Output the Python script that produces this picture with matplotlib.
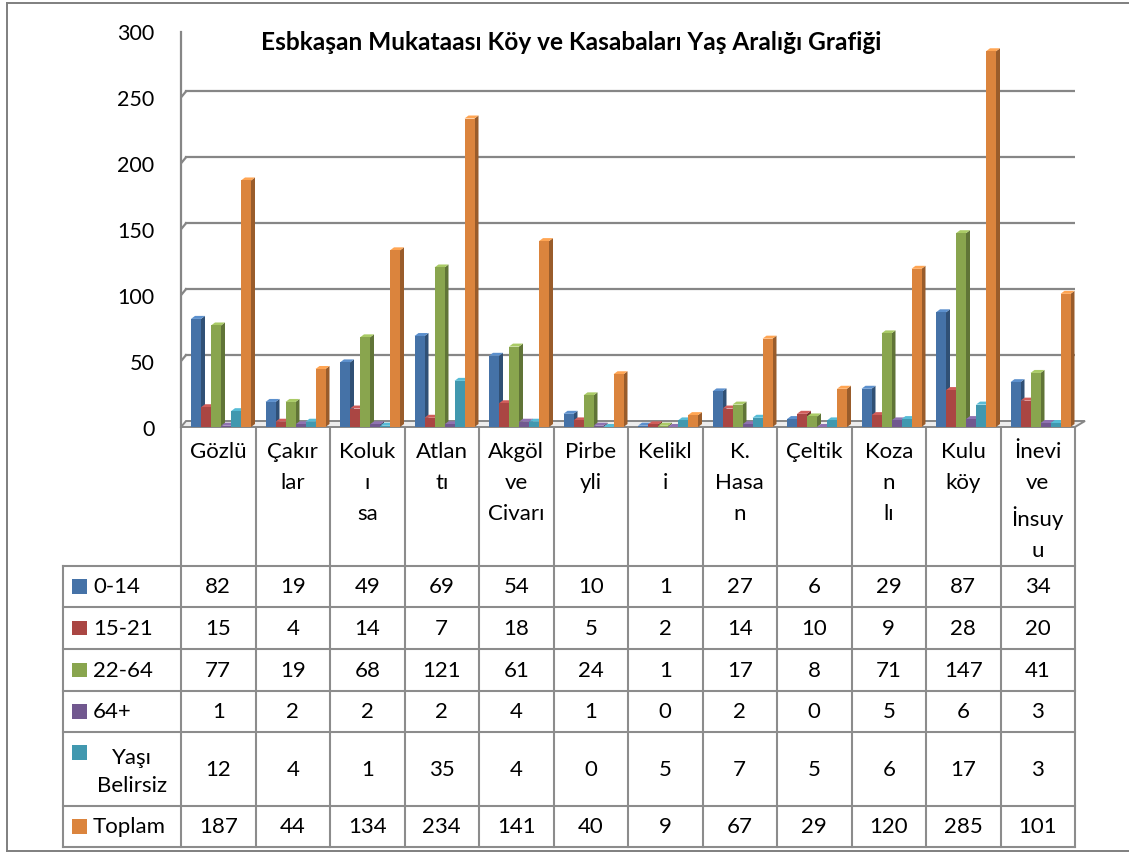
import matplotlib
matplotlib.use('Agg')
from matplotlib import pyplot as plt
from matplotlib.patches import Polygon, Rectangle
import matplotlib.colors as mcolors
import numpy as np

plt.rcParams['font.family'] = ['Lato', 'DejaVu Sans']

# ----- data -----
villages = ['Gözlü', 'Çakır\nlar', 'Koluk\nı\nsa', 'Atlan\ntı', 'Akgöl\nve\nCivarı',
            'Pirbe\nyli', 'Kelikl\ni', 'K.\nHasa\nn', 'Çeltik', 'Koza\nn\nlı',
            'Kulu\nköy', 'İnevi\nve\nİnsuy\nu']
series_names = ['0-14', '15-21', '22-64', '64+', 'Yaşı\nBelirsiz', 'Toplam']
age_0_14 = [82, 19, 49, 69, 54, 10, 1, 27, 6, 29, 87, 34]
age_15_21 = [15, 4, 14, 7, 18, 5, 2, 14, 10, 9, 28, 20]
age_22_64 = [77, 19, 68, 121, 61, 24, 1, 17, 8, 71, 147, 41]
age_64_plus = [1, 2, 2, 2, 4, 1, 0, 2, 0, 5, 6, 3]
unknown_age = [12, 4, 1, 35, 4, 0, 5, 7, 5, 6, 17, 3]
total = [187, 44, 134, 234, 141, 40, 9, 67, 29, 120, 285, 101]
all_series = [age_0_14, age_15_21, age_22_64, age_64_plus, unknown_age, total]
colors = ['#4572A7', '#AA4643', '#89A54E', '#71588F', '#4198AF', '#DB843D']
title = 'Esbkaşan Mukataası Köy ve Kasabaları Yaş Aralığı Grafiği'

W, H = 1129, 854
fig = plt.figure(figsize=(W / 100, H / 100), dpi=100)

# background axes in pixel coords (table, frame)
bg = fig.add_axes([0, 0, 1, 1])
bg.set_xlim(0, W)
bg.set_ylim(H, 0)
bg.axis('off')

# chart area (front plane) in pixels
x0, x1 = 181, 1075
y_zero, y_top = 428, 32.5
ax = fig.add_axes([x0 / W, (H - y_zero) / H, (x1 - x0) / W, (y_zero - y_top) / H])
ax.set_xlim(0, 12)
ax.set_ylim(0, 300)
for s in ax.spines.values():
    s.set_visible(False)
ax.set_xticks([])
ax.set_yticks(range(0, 301, 50))
ax.tick_params(axis='y', length=0, pad=19, labelsize=15.5)
ax.patch.set_alpha(0)

px_x = 12 / (x1 - x0)          # data units per pixel in x
px_y = 300 / (y_zero - y_top)  # data units per pixel in y
grid_c = '#868686'

# back wall gridlines
bdx, bdy = 5 * px_x, 6 * px_y
x_end = (1085 - x0) * px_x
for v in range(50, 301, 50):
    ax.plot([bdx, x_end], [v + bdy, v + bdy], color=grid_c, lw=1.6, zorder=1)
    ax.plot([0, bdx], [v, v + bdy], color=grid_c, lw=1.6, zorder=1)
ax.plot([0, 0], [0, 300], color=grid_c, lw=1.6, zorder=1, clip_on=False)

# floor
ax.add_patch(Polygon([(0, 0), (12, 0), (x_end, bdy), (bdx, bdy)], closed=True,
                     facecolor='#EDEDED', edgecolor=grid_c, lw=1.4, zorder=2, clip_on=False))

# 3D-ish columns
bw = 10 * px_x
ddx, ddy = 4 * px_x, 3 * px_y
groups = np.arange(len(villages))
for i, (vals, c) in enumerate(zip(all_series, colors)):
    xs = groups + (10 + 10 * i + 5) * px_x
    dark = np.array(mcolors.to_rgb(c)) * 0.7
    light = np.clip(np.array(mcolors.to_rgb(c)) * 1.15 + 0.05, 0, 1)
    z = 3 + i * 0.1
    ax.bar(xs, vals, width=bw, color=c, zorder=z + 0.02, linewidth=0)
    for x, v in zip(xs, vals):
        r = x + bw / 2
        l = x - bw / 2
        ax.add_patch(Polygon([(r, 0), (r + ddx, ddy), (r + ddx, v + ddy), (r, v)],
                             closed=True, facecolor=dark, lw=0, zorder=z))
        ax.add_patch(Polygon([(l, v), (r, v), (r + ddx, v + ddy), (l + ddx, v + ddy)],
                             closed=True, facecolor=light, lw=0, zorder=z + 0.01))

ax.text(0.436, 0.975, title, transform=ax.transAxes, ha='center', va='center',
        fontsize=17.6, fontweight='bold')

# ----- data table -----
col_w = (x1 - x0) / 12
row_edges = [567, 608, 650, 692, 733, 807, 848]
tc = '#8C8C8C'
lw = 1.5
for k in range(13):
    bg.plot([x0 + k * col_w] * 2, [429, 848], color=tc, lw=lw)
bg.plot([63, 63], [567, 848], color=tc, lw=lw)
for y in row_edges:
    bg.plot([63, x1], [y, y], color=tc, lw=lw)

fs = 16
for k, name in enumerate(villages):
    bg.text(x0 + (k + 0.5) * col_w, 442, name, ha='center', va='top', fontsize=fs,
            linespacing=1.68)

for r, (name, vals, c) in enumerate(zip(series_names, all_series, colors)):
    yc = (row_edges[r] + row_edges[r + 1]) / 2
    if '\n' in name:
        bg.add_patch(Rectangle((72, 746), 14.5, 14.5, facecolor=c, lw=0))
        bg.text(132, yc + 2, name, ha='center', va='center', fontsize=fs, linespacing=1.55)
    else:
        bg.add_patch(Rectangle((72, yc - 7.5), 14.5, 14.5, facecolor=c, lw=0))
        bg.text(93, yc, name, ha='left', va='center', fontsize=fs)
    for k, v in enumerate(vals):
        bg.text(x0 + (k + 0.5) * col_w, yc, str(v), ha='center', va='center', fontsize=fs)

# outer frame
bg.plot([7, 7], [4, 852], color='#7F7F7F', lw=1.4)
bg.plot([7, W], [4, 4], color='#7F7F7F', lw=1.4)
bg.plot([7, W], [852, 852], color='#7F7F7F', lw=1.4)

fig.savefig('out.png', dpi=100)
